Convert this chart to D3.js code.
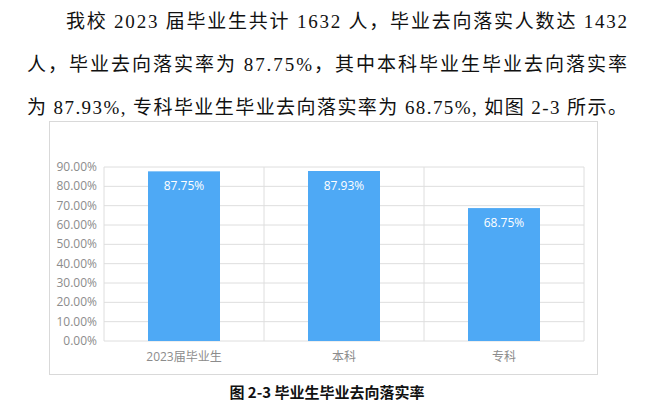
<!DOCTYPE html><html><head><meta charset="utf-8"><script src="https://cdn.jsdelivr.net/npm/d3@7"></script>
<style>body{margin:0;background:#fff}</style></head><body><svg width="671" height="420"></svg>
<script>
const categories=["2023届毕业生","本科","专科"];
const values=[87.75,87.93,68.75];
const yTicks=[0,10,20,30,40,50,60,70,80,90];
const paragraph=["我校 2023 届毕业生共计 1632 人，毕业去向落实人数达 1432","人，毕业去向落实率为 87.75%，其中本科毕业生毕业去向落实率","为 87.93%, 专科毕业生毕业去向落实率为 68.75%, 如图 2-3 所示。"];
const caption="图 2-3 毕业生毕业去向落实率";
const svg=d3.select("svg");
const tf="'Liberation Serif','Noto Sans CJK SC',serif";
const lines=[{x:66,y:28},{x:27,y:71},{x:27,y:114}];
paragraph.forEach((t,i)=>svg.append("text").attr("x",lines[i].x).attr("y",lines[i].y).attr("font-family",tf).attr("font-size",19).attr("fill","#111")
 .attr("textLength",627-lines[i].x).attr("lengthAdjust","spacing").text(t));
svg.append("rect").attr("x",49.5).attr("y",121.5).attr("width",548).attr("height",253).attr("fill","none").attr("stroke","#d9d9d9");
const x=d3.scaleBand().domain(categories).range([104,584]);
const y=d3.scaleLinear().domain([0,90]).range([341,167]);
const g=svg.append("g").attr("font-family","'Open Sans','Noto Sans CJK SC',sans-serif");
g.selectAll(".h").data(yTicks).join("line").attr("x1",104).attr("x2",584).attr("y1",d=>y(d)).attr("y2",d=>y(d)).attr("stroke","#dedede");
[...categories.map(c=>x(c)),584].forEach(v=>g.append("line").attr("x1",v).attr("x2",v).attr("y1",167).attr("y2",341).attr("stroke","#dedede"));
g.selectAll(".yl").data(yTicks).join("text").attr("x",97).attr("y",d=>y(d)+4).attr("text-anchor","end").attr("font-size",12).attr("fill","#8c8c8c").text(d=>d.toFixed(2)+"%");
const bw=72;
g.selectAll(".b").data(values).join("rect").attr("x",(d,i)=>x(categories[i])+x.bandwidth()/2-bw/2).attr("width",bw).attr("y",d=>y(d)).attr("height",d=>341-y(d)).attr("fill","#4ea9f5");
g.selectAll(".v").data(values).join("text").attr("x",(d,i)=>x(categories[i])+x.bandwidth()/2).attr("y",d=>y(d)+19).attr("text-anchor","middle").attr("font-size",12).attr("fill","#fff").text(d=>d.toFixed(2)+"%");
g.selectAll(".c").data(categories).join("text").attr("x",c=>x(c)+x.bandwidth()/2).attr("y",361).attr("text-anchor","middle").attr("font-size",12).attr("fill","#8c8c8c").text(c=>c);
svg.append("text").attr("x",327).attr("y",398).attr("text-anchor","middle").attr("font-family","'Noto Sans CJK SC',sans-serif").attr("font-weight","bold").attr("font-size",15).attr("fill","#111").text(caption);
</script></body></html>
